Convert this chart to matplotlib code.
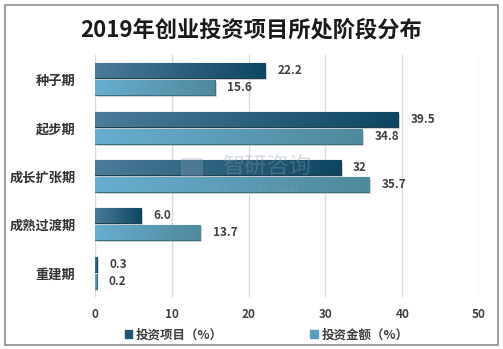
import numpy as np
import matplotlib
matplotlib.use("Agg")
import matplotlib.pyplot as plt
from matplotlib.patches import Rectangle
from matplotlib.colors import LinearSegmentedColormap

plt.rcParams['font.family'] = ['Noto Sans CJK SC', 'DejaVu Sans']

categories = ['种子期', '起步期', '成长扩张期', '成熟过渡期', '重建期']
projects = [22.2, 39.5, 32, 6.0, 0.3]
amounts = [15.6, 34.8, 35.7, 13.7, 0.2]
project_labels = ['22.2', '39.5', '32', '6.0', '0.3']
amount_labels = ['15.6', '34.8', '35.7', '13.7', '0.2']
series_names = ['投资项目（%）', '投资金额（%）']
xticks = [0, 10, 20, 30, 40, 50]
title = '2019年创业投资项目所处阶段分布'

W, H = 503, 349
fig = plt.figure(figsize=(W / 100, H / 100), dpi=100)
ax = fig.add_axes([95 / W, 1 - 297 / H, (479 - 95) / W, (297 - 55) / H])

# outer border
fig.patches.append(Rectangle((5 / W, 4 / H), 493 / W, 340 / H, transform=fig.transFigure,
                             fill=False, edgecolor='#8c8c8c', linewidth=1.2))

y = np.arange(len(categories))
h = 0.31
off = 0.175
dark_solid = '#2b5f7c'
light_solid = '#5fa3c0'
b1 = ax.barh(y - off, projects, height=h, color=dark_solid, edgecolor='#1c3f52', linewidth=0.8, zorder=3)
b2 = ax.barh(y + off, amounts, height=h, color=light_solid, edgecolor='#3d6f82', linewidth=0.8, zorder=3)

cm_dark = LinearSegmentedColormap.from_list('d', ['#4b7c99', '#0e4661'])
cm_light = LinearSegmentedColormap.from_list('l', ['#68aed0', '#4f899c'])
grad = np.linspace(0, 1, 256).reshape(1, -1)
for bars, cm in ((b1, cm_dark), (b2, cm_light)):
    for p in bars:
        x0, y0 = p.get_x(), p.get_y()
        w, hh = p.get_width(), p.get_height()
        # shadow
        ax.add_patch(Rectangle((x0 + 0.25, y0 + 0.04), w, hh, color='#bdbdbd', alpha=0.6, zorder=2, linewidth=0))
        im = ax.imshow(grad, cmap=cm, aspect='auto', extent=(x0, x0 + w, y0 + hh, y0), zorder=3.5,
                       interpolation='bilinear')
        im.set_clip_path(p)

for bars, labs in ((b1, project_labels), (b2, amount_labels)):
    for p, lab in zip(bars, labs):
        ax.text(p.get_x() + p.get_width() + 1.6, p.get_y() + p.get_height() / 2, lab,
                va='center', ha='left', fontsize=8.5, fontweight='bold', color='#404040', zorder=5)

ax.set_xlim(0, 50)
ax.set_ylim(len(categories) - 0.5, -0.5)
ax.set_xticks(xticks)
ax.set_xticklabels([str(t) for t in xticks], fontsize=8.5, fontweight='bold', color='#404040')
ax.set_yticks(y)
ax.set_yticklabels(categories, fontsize=9.5, fontweight='bold', color='#333333')
ax.tick_params(length=0, pad=8)
ax.tick_params(axis='y', pad=14)
for s in ax.spines.values():
    s.set_visible(False)
ax.grid(axis='x', color='#d9d9d9', linewidth=1.0, zorder=0)
ax.set_axisbelow(True)

fig.text(0.5, 1 - 30 / H, title, ha='center', va='center', fontsize=16, fontweight='bold', color='#1a1a1a')

# watermark
fig.patches.append(Rectangle((181 / W, 1 - 178 / H), 22 / W, 20 / H, transform=fig.transFigure,
                             color='#8aa4c0', alpha=0.3, linewidth=0, zorder=10))
fig.text(267 / W, 1 - 167 / H, '智研咨询', ha='center', va='center', fontsize=16, color='#8a9fb5', alpha=0.35, zorder=10)
fig.text(252 / W, 1 - 189 / H, 'w w w . c h y x x . c o m', ha='center', va='center', fontsize=6.5, color='#8a9fb5', alpha=0.45, zorder=10)

# legend
handles = [Rectangle((0, 0), 1, 1, color='#1f5470'), Rectangle((0, 0), 1, 1, color='#5a9dbb')]
leg = fig.legend(handles, series_names, loc='center', bbox_to_anchor=(0.53, 1 - 335 / H), ncol=2,
                 frameon=False, handlelength=0.6, handleheight=0.6, handletextpad=0.3, columnspacing=7,
                 prop={'size': 9, 'weight': 'bold'})
for t in leg.get_texts():
    t.set_color('#404040')

fig.savefig('out.png', dpi=100)
